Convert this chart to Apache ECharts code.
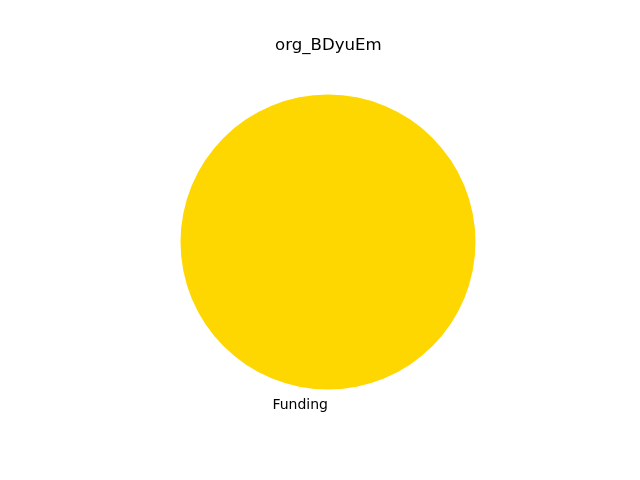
<!DOCTYPE html>
<html><head><meta charset="utf-8">
<script src="https://cdn.jsdelivr.net/npm/echarts@6/dist/echarts.min.js"></script>
<style>html,body{margin:0;padding:0;background:#fff}#c{width:640px;height:480px}</style>
</head><body><div id="c"></div>
<script>
const categories = ['Funding'];
const values = [100];
const colors = ['#FFD700'];
const chart = echarts.init(document.getElementById('c'));
chart.setOption({
  animation: false,
  backgroundColor: '#ffffff',
  title: {text: 'org_BDyuEm', left: 270, top: 32,
    textStyle: {fontFamily: 'DejaVu Sans', fontSize: 16.6, fontWeight: 'normal', color: '#000'}},
  series: [{
    type: 'pie',
    center: [328, 242],
    radius: [0, 147.5],
    startAngle: 89.99,
    clockwise: true,
    data: categories.map((c, i) => ({name: c, value: values[i], itemStyle: {color: colors[i]}})),
    label: {show: true, position: 'outside', fontFamily: 'DejaVu Sans', fontSize: 14, color: '#000', distanceToLabelLine: 0},
    labelLine: {show: false, length: 16, length2: 0},
    emphasis: {disabled: true}
  }]
});
</script></body></html>
